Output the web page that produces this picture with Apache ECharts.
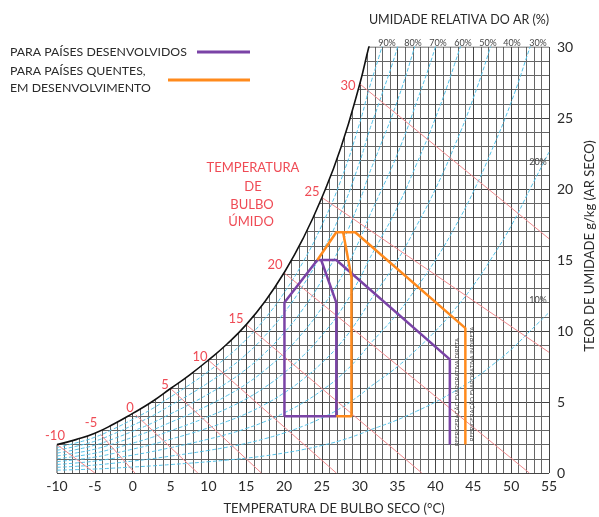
<!DOCTYPE html>
<html><head><meta charset="utf-8">
<script src="https://cdn.jsdelivr.net/npm/echarts@6/dist/echarts.min.js"></script>
<style>html,body{margin:0;padding:0;background:#fff}#c{width:599px;height:517px}</style>
</head><body><div id="c"></div>
<script>
// ---------- data ----------
// saturation curve (100% RH): dry-bulb °C -> g/kg
const satTemps    = [-10, -7.5, -5, -2.5, 0, 2.5, 5, 7.5, 10, 12.5, 15, 17.5, 20, 22.5, 25, 27.5, 30, 31.2, 32.5, 35, 37.5, 40, 42.5, 45, 47.5, 50, 52.5, 55];
const satHumidity = [2.0, 2.35, 2.8, 3.45, 4.2, 5.0, 5.95, 6.9, 7.95, 9.1, 10.45, 12.1, 14.1, 16.5, 19.4, 22.9, 27.4, 30.0, 32.5, 37.5, 43.5, 50, 57.5, 66, 76, 87, 100, 113];
const rhLevels = [10, 20, 30, 40, 50, 60, 70, 80, 90];
const rhTopLabels = ['90%', '80%', '70%', '60%', '50%', '40%', '30%'];
// wet-bulb lines
const wbTemps = [-10, -5, 0, 5, 10, 15, 20, 25, 30];
const wbStart = [[-10, 2.0], [-4.2, 2.7], [0.4, 4.1], [5, 5.95], [10, 7.95], [15, 10.45], [20, 14.1], [25, 19.4], [30, 27.4]];
const wbEnd   = [[-5.0, 0], [0.3, 0], [8.6, 0], [17.0, 0], [26.9, 0], [38.2, 0], [52.4, 0], [55, 8.5], [55, 16.5]];
// comfort zones
const developedOuter = [[26.9, 4.0], [20.05, 4.0], [20.05, 12.0], [24.4, 15.0], [26.9, 15.0], [41.9, 8.0], [41.9, 2.0]];
const developedInner = [[24.9, 15.0], [26.9, 12.0], [26.9, 4.0]];
const hotOuter = [[24.4, 15.0], [26.9, 16.95], [29.4, 16.95], [43.95, 10.2], [43.95, 2.0]];
const hotInner = [[27.8, 16.95], [28.9, 13.8], [28.9, 4.0], [26.9, 4.0]];
const xTicks = {min: -10, max: 55, step: 5};
const yTicks = {min: 0, max: 30, step: 5};

// ---------- styles ----------
const FONT = 'Lato, "Open Sans", sans-serif';
const RED = '#ef4b55';
const PURPLE = '#7a43a6';
const ORANGE = '#ff8a1c';
const CYAN = '#55c2e8';
const PINK = '#f08a8e';
const TXT = '#2a2a2a';

const chart = echarts.init(document.getElementById('c'));

const line = (data, color, width, z, extra) => Object.assign({
  type: 'line', data, symbol: 'none', silent: true, z,
  lineStyle: {color, width}, animation: false
}, extra || {});

const series = [];
// white cover above the saturation curve (hides the grid there)
series.push(line(satTemps.map((t, i) => [t, satHumidity[i]]), '#fff', 0, 2,
  {smooth: true, areaStyle: {color: '#fff', opacity: 1, origin: 'end'}, lineStyle: {width: 0}}));
// top and left borders of the grid outside the covered part
series.push(line([[satTemps[17], yTicks.max], [xTicks.max, yTicks.max]], '#444', 1, 3));
series.push(line([[xTicks.min, 0], [xTicks.min, satHumidity[0]]], '#444', 1, 3));
// relative humidity curves
rhLevels.forEach(rh => series.push(line(satTemps.map((t, i) => [t, satHumidity[i] * rh / 100]), CYAN, 1, 3,
  {smooth: true, lineStyle: {color: CYAN, width: 1, type: [4, 2]}})));
// wet bulb lines
wbTemps.forEach((w, i) => series.push(line([wbStart[i], wbEnd[i]], PINK, 1, 3)));
// zones
series.push(line(developedOuter, PURPLE, 2.5, 4));
series.push(line(developedInner, PURPLE, 2.5, 4));
series.push(line(hotOuter, ORANGE, 2.5, 4));
series.push(line(hotInner, ORANGE, 2.5, 4));
// saturation curve
series.push(line(satTemps.map((t, i) => [t, satHumidity[i]]), '#111', 1.6, 6, {smooth: true}));

const txt = (text, x, y, size, color, extra) => Object.assign({
  type: 'text', x, y, silent: true, z: 100,
  style: {text, font: size + 'px ' + FONT, fill: color, align: 'center', verticalAlign: 'middle'}
}, extra || {});
const ltxt = (text, x, y, size, color) => ({
  type: 'text', x, y, silent: true, z: 100,
  style: {text, font: size + 'px ' + FONT, fill: color, align: 'left', verticalAlign: 'middle'}
});

const graphic = [
  txt('UMIDADE RELATIVA DO AR (%)', 459, 20, 12.5, TXT),
  ltxt('PARA PAÍSES DESENVOLVIDOS', 10, 52, 12.3, TXT),
  ltxt('PARA PAÍSES QUENTES,', 10, 71, 12.3, TXT),
  ltxt('EM DESENVOLVIMENTO', 10, 88, 12.3, TXT),
  {type: 'line', shape: {x1: 197, y1: 52, x2: 250, y2: 52}, style: {stroke: PURPLE, lineWidth: 3}, z: 100},
  {type: 'line', shape: {x1: 168, y1: 80, x2: 250, y2: 80}, style: {stroke: ORANGE, lineWidth: 3}, z: 100},
  txt('TEMPERATURA', 253, 168, 13, RED),
  txt('DE', 253, 187, 13, RED),
  txt('BULBO', 252, 205, 13, RED),
  txt('ÚMIDO', 251, 222, 13, RED),
  txt('TEOR DE UMIDADE g/kg (AR SECO)', 590, 246, 13, TXT, {rotation: Math.PI / 2}),
  txt('TEMPERATURA DE BULBO SECO (°C)', 334, 509, 13, TXT),
  txt('REFRIGERAÇÃO EVAPORATIVA DIRETA', 457, 392, 6, '#444', {rotation: Math.PI / 2}),
  txt('REFRIGERAÇÃO EVAPORATIVA INDIRETA', 472, 384, 6, '#444', {rotation: Math.PI / 2}),
  txt('20%', 538, 162, 9, '#444'),
  txt('10%', 538, 300, 9, '#444')
];
const topLabelX = [387, 413, 438, 463, 488, 512, 538];
rhTopLabels.forEach((l, i) => graphic.push(txt(l, topLabelX[i], 43, 9, '#444')));
const wbLabelPos = [[55, 436], [91, 423], [130, 408], [165, 385], [200, 357], [236, 319], [275, 265], [312, 192], [348, 86]];
wbTemps.forEach((w, i) => graphic.push(txt(String(w), wbLabelPos[i][0], wbLabelPos[i][1], 13, RED)));

chart.setOption({
  animation: false,
  backgroundColor: '#fff',
  grid: {left: 57, right: 50, top: 47, bottom: 44},
  xAxis: {
    type: 'value', min: xTicks.min, max: xTicks.max, interval: xTicks.step,
    axisLine: {show: false}, axisTick: {show: false},
    axisLabel: {color: TXT, fontSize: 14, fontFamily: FONT, margin: 6},
    splitLine: {show: true, showMinLine: false, lineStyle: {color: '#444', width: 1}},
    minorTick: {show: false, splitNumber: 5},
    minorSplitLine: {show: true, lineStyle: {color: '#666', width: 1}}
  },
  yAxis: {
    type: 'value', position: 'right', min: yTicks.min, max: yTicks.max, interval: yTicks.step,
    axisLine: {show: false}, axisTick: {show: false},
    axisLabel: {color: TXT, fontSize: 14, fontFamily: FONT, margin: 8},
    splitLine: {show: true, showMaxLine: false, lineStyle: {color: '#444', width: 1}},
    minorTick: {show: false, splitNumber: 5},
    minorSplitLine: {show: true, lineStyle: {color: '#666', width: 1}}
  },
  series,
  graphic
});
</script></body></html>
